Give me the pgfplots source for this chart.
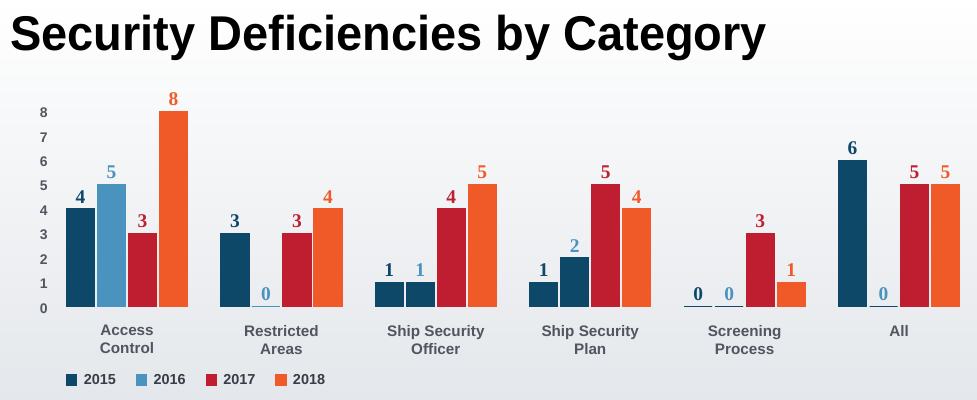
\documentclass[border=0pt]{standalone}
\usepackage{fontspec}
\setmainfont{Liberation Sans}
\newfontfamily\serifb{Liberation Serif}
\usepackage{graphicx}
\usepackage{pgfplots}
\pgfplotsset{compat=1.18}
\definecolor{navy}{RGB}{13,72,104}
\definecolor{lblue}{RGB}{74,147,190}
\definecolor{cred}{RGB}{190,30,48}
\definecolor{corange}{RGB}{240,90,40}
\definecolor{tgray}{RGB}{80,85,95}
\definecolor{lgray}{RGB}{55,60,70}
\definecolor{bggray}{RGB}{228,231,235}
\begin{document}
\begin{tikzpicture}[x=1bp,y=1bp]
\shade[top color=white, bottom color=bggray] (0,0) rectangle (977,399);
\node[anchor=base west, inner sep=0pt] at (10,349) {\fontsize{49}{49}\selectfont\bfseries\scalebox{0.962}[1]{Security Deficiencies by Category}};
\begin{axis}[
  at={(49.8bp,92.3bp)}, anchor=south west,
  scale only axis, width=926.4bp, height=195.4bp,
  xmin=-0.5, xmax=5.5, ymin=0, ymax=8,
  axis line style={draw=none}, major tick length=0pt,
  ytick={0,1,...,8},
  xtick={0,1,...,5},
  xticklabels={Access\\Control, Restricted\\Areas, Ship Security\\Officer, Ship Security\\Plan, Screening\\Process, All},
  /pgf/number format/assume math mode=true,
  yticklabel style={font=\bfseries\fontsize{14}{14}\selectfont, text=tgray, inner sep=0pt, xshift=-2bp, yshift=-1.5bp},
  xticklabel style={font=\bfseries\fontsize{15.3}{18}\selectfont, text=tgray, align=center, inner sep=0pt, yshift=-18.5bp},
  ybar, bar width=28bp, clip=false,
  every axis plot/.append style={line width=1.2bp},
  nodes near coords,
  every node near coord/.append style={font=\serifb\bfseries\fontsize{19.5}{19.5}\selectfont, inner sep=5bp},
  legend columns=4,
  legend style={at={(0.0175,-0.375)}, anchor=west, draw=none, fill=none, inner sep=0pt,
     font=\bfseries\fontsize{14.5}{14.5}\selectfont, text=lgray,
     /tikz/every even column/.append style={column sep=18bp}},
  legend image code/.code={\fill[#1] (0bp,-5bp) rectangle (10bp,5bp); \path[draw=none,fill=none] (0bp,0bp) -- (15bp,0bp);},
]
\addplot[fill=navy, draw=navy, bar shift=-46.5bp, every node near coord/.append style={text=navy}]
  coordinates {(0,4) (1,3) (2,1) (3,1) (4,0) (5,6)};
\addlegendentry{2015}
\addplot[fill=lblue, draw=lblue, bar shift=-15.5bp, every node near coord/.append style={text=lblue}]
  coordinates {(0,5) (1,0)};
\addlegendentry{2016}
\addplot[fill=navy, draw=navy, bar shift=-15.5bp, forget plot, every node near coord/.append style={text=lblue}]
  coordinates {(2,1) (3,2) (4,0) (5,0)};
\addplot[fill=cred, draw=cred, bar shift=15.5bp, every node near coord/.append style={text=cred}]
  coordinates {(0,3) (1,3) (2,4) (3,5) (4,3) (5,5)};
\addlegendentry{2017}
\addplot[fill=corange, draw=corange, bar shift=46.5bp, every node near coord/.append style={text=corange}]
  coordinates {(0,8) (1,4) (2,5) (3,4) (4,1) (5,5)};
\addlegendentry{2018}
\end{axis}
\end{tikzpicture}
\end{document}
